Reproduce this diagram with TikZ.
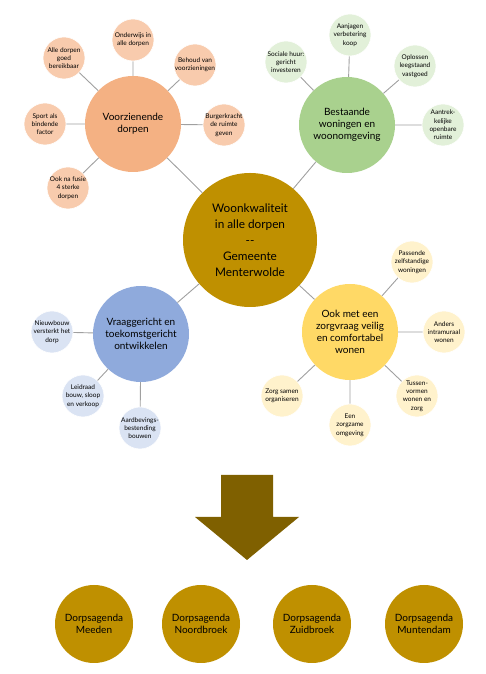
\documentclass[tikz,border=0pt]{standalone}
\usepackage{fontspec}
\setmainfont{Lato}
\usepackage{xcolor}
\definecolor{mainGold}{HTML}{BF9000}
\definecolor{arrowDark}{HTML}{7F6000}
\definecolor{orangeHub}{HTML}{F4B183}
\definecolor{orangeSat}{HTML}{F8CBAD}
\definecolor{greenHub}{HTML}{A9D18E}
\definecolor{greenSat}{HTML}{E2F0D9}
\definecolor{blueHub}{HTML}{8FAADC}
\definecolor{blueSat}{HTML}{DAE3F3}
\definecolor{yellowHub}{HTML}{FFD966}
\definecolor{yellowSat}{HTML}{FFF2CC}
\definecolor{linkGrey}{HTML}{A0A0A0}
\usepackage{tikz}
\usetikzlibrary{positioning,calc}
\tikzset{%
  mainCircle/.style={%
    circle,
    fill=mainGold,
    minimum size=134pt,
    inner sep=0pt,
    align=center,
    font=\fontsize{11.8}{16}\selectfont
  },
  hubCircle/.style={%
    circle,
    minimum size=96pt,
    inner sep=0pt,
    align=center,
    font=\fontsize{10}{12}\selectfont
  },
  satCircle/.style={%
    circle,
    draw=white,
    line width=0.6pt,
    minimum size=42pt,
    inner sep=-4pt,
    align=center,
    font=\fontsize{6.5}{8.3}\selectfont
  },
  dorpCircle/.style={%
    circle,
    fill=mainGold,
    minimum size=78pt,
    inner sep=0pt,
    align=center,
    font=\fontsize{10}{12.5}\selectfont
  },
  linkLine/.style={%
    draw=linkGrey,
    line width=0.9pt
  }
}

\begin{document}
\begin{tikzpicture}[x=1pt,y=1pt]
  \useasboundingbox (0,0) rectangle (485,674);

  \node[mainCircle] (center) at (250,434) {Woonkwaliteit\\in alle dorpen\\-{}-\\Gemeente\\Menterwolde};

  % voorzienende dorpen
  \node[hubCircle, fill=orangeHub] (vzHub) at (133,550) {Voorzienende\\dorpen};
  \node[satCircle, fill=orangeSat] (vzOnderwijs) at (133,634) {Onderwijs in\\alle dorpen};
  \node[satCircle, fill=orangeSat] (vzBereik) at (64,616) {Alle dorpen\\goed\\bereikbaar};
  \node[satCircle, fill=orangeSat] (vzBehoud) at (195,609) {Behoud van\\voorzieningen};
  \node[satCircle, fill=orangeSat] (vzSport) at (45,550) {Sport als\\bindende\\factor};
  \node[satCircle, fill=orangeSat] (vzBurger) at (224,549) {Burgerkracht\\de ruimte\\geven};
  \node[satCircle, fill=orangeSat] (vzFusie) at (68,486) {Ook na fusie\\4 sterke\\dorpen};

  % bestaande woningen
  \node[hubCircle, fill=greenHub] (bwHub) at (347,549) {Bestaande\\woningen en\\woonomgeving};
  \node[satCircle, fill=greenSat] (bwKoop) at (350,639) {Aanjagen\\verbetering\\koop};
  \node[satCircle, fill=greenSat] (bwHuur) at (286,612) {Sociale huur:\\gericht\\investeren};
  \node[satCircle, fill=greenSat] (bwLeeg) at (415,608) {Oplossen\\leegstaand\\vastgoed};
  \node[satCircle, fill=greenSat] (bwRuimte) at (443,549) {Aantrek-\\kelijke\\openbare\\ruimte};

  % vraaggericht ontwikkelen
  \node[hubCircle, fill=blueHub] (vgHub) at (141,340) {Vraaggericht en\\toekomstgericht\\ontwikkelen};
  \node[satCircle, fill=blueSat] (vgNieuw) at (52,342) {Nieuwbouw\\versterkt het\\dorp};
  \node[satCircle, fill=blueSat] (vgLeidraad) at (83,278) {Leidraad\\bouw, sloop\\en verkoop};
  \node[satCircle, fill=blueSat] (vgBeving) at (140,246) {Aardbevings-\\bestending\\bouwen};

  % zorgvraag
  \node[hubCircle, fill=yellowHub] (zwHub) at (350,342) {Ook met een\\zorgvraag veilig\\en comfortabel\\wonen};
  \node[satCircle, fill=yellowSat] (zwPassend) at (412,412) {Passende\\zelfstandige\\woningen};
  \node[satCircle, fill=yellowSat] (zwAnders) at (444,342) {Anders\\intramuraal\\wonen};
  \node[satCircle, fill=yellowSat] (zwTussen) at (417,278) {Tussen-\\vormen\\wonen en\\zorg};
  \node[satCircle, fill=yellowSat] (zwOmgeving) at (350,249) {Een\\zorgzame\\omgeving};
  \node[satCircle, fill=yellowSat] (zwSamen) at (282,278) {Zorg samen\\organiseren};

  \draw[linkLine] (center) -- (vzHub) (center) -- (bwHub) (center) -- (vgHub) (center) -- (zwHub);
  \draw[linkLine] (vzHub) -- (vzOnderwijs) (vzHub) -- (vzBereik) (vzHub) -- (vzBehoud)
                  (vzHub) -- (vzSport) (vzHub) -- (vzBurger) (vzHub) -- (vzFusie);
  \draw[linkLine] (bwHub) -- (bwKoop) (bwHub) -- (bwHuur) (bwHub) -- (bwLeeg) (bwHub) -- (bwRuimte);
  \draw[linkLine] (vgHub) -- (vgNieuw) (vgHub) -- (vgLeidraad) (vgHub) -- (vgBeving);
  \draw[linkLine] (zwHub) -- (zwPassend) (zwHub) -- (zwAnders) (zwHub) -- (zwTussen)
                  (zwHub) -- (zwOmgeving) (zwHub) -- (zwSamen);

  % big arrow down
  \fill[arrowDark] (221,199) -- (273,199) -- (273,157) -- (299,157) -- (247,114)
                   -- (195,157) -- (221,157) -- cycle;

  \node[dorpCircle] (meeden) at (94,50) {Dorpsagenda\\Meeden};
  \node[dorpCircle] (noordbroek) at (201,50) {Dorpsagenda\\Noordbroek};
  \node[dorpCircle] (zuidbroek) at (312,50) {Dorpsagenda\\Zuidbroek};
  \node[dorpCircle] (muntendam) at (424,50) {Dorpsagenda\\Muntendam};
\end{tikzpicture}
\end{document}
